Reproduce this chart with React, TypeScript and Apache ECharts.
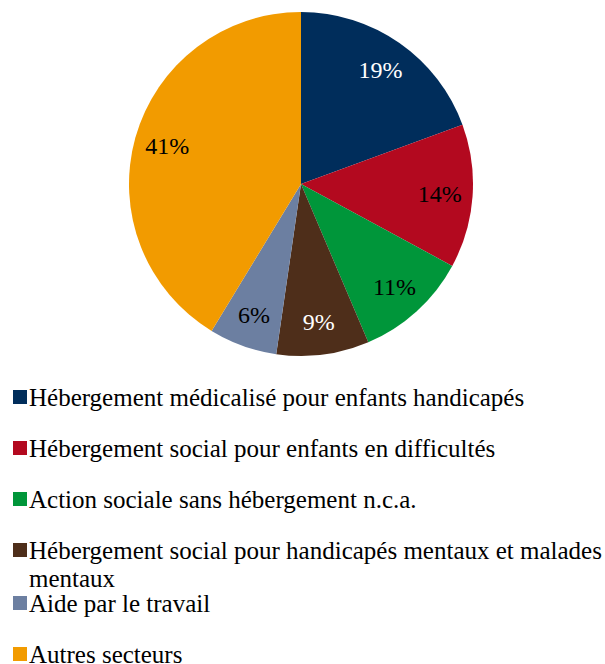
import React, { useEffect, useRef } from "react";
import * as echarts from "echarts";

const categories = [
  "Hébergement médicalisé pour enfants handicapés",
  "Hébergement social pour enfants en difficultés",
  "Action sociale sans hébergement n.c.a.",
  "Hébergement social pour handicapés mentaux et malades mentaux",
  "Aide par le travail",
  "Autres secteurs",
];
const values = [19.4, 13.5, 10.7, 8.7, 6.4, 41.3];
const colors = ["#002D5B", "#B3091F", "#00963A", "#4E2E1A", "#6C7FA1", "#F29B00"];
const labelColors = ["#FFFFFF", "#000000", "#000000", "#FFFFFF", "#000000", "#000000"];
const legendTops = [397, 448, 499, 550, 603, 654];

const FONT = "Liberation Serif";

export default function App() {
  const ref = useRef<HTMLDivElement>(null);
  useEffect(() => {
    document.body.style.margin = "0";
    const chart = echarts.init(ref.current!, null, { renderer: "svg" });
    const data = categories.map((name, i) => ({
      name,
      value: values[i],
      itemStyle: { color: colors[i] },
    }));
    const labelData = categories.map((name, i) => ({
      name,
      value: values[i],
      itemStyle: { color: "rgba(0,0,0,0)" },
      label: { color: labelColors[i] },
    }));
    const fontSize = 25;
    const legends = categories.map((name, i) => ({
      data: [name],
      left: 13,
      top: legendTops[i] - 17,
      orient: "vertical",
      itemWidth: 14,
      itemHeight: 14,
      itemGap: 0,
      icon: "rect",
      padding: 0,
      selectedMode: false,
      textStyle: {
        fontFamily: FONT,
        fontSize,
        color: "#000",
        padding: [0, 0, 9, -3],
        lineHeight: 25,
      },
      formatter: (n: string) =>
        n === categories[3] ? "Hébergement social pour handicapés mentaux et malades" : n,
    }));
    chart.setOption({
      animation: false,
      legend: legends,
      graphic: [
        {
          type: "text",
          x: 29,
          y: 578,
          style: {
            text: "mentaux",
            fontFamily: FONT,
            fontSize,
            fill: "#000",
            verticalAlign: "middle",
          },
        },
      ],
      series: [
        {
          type: "pie",
          center: [301, 184],
          radius: [0, 172],
          startAngle: 90,
          clockwise: true,
          data,
          label: { show: false },
          labelLine: { show: false },
          silent: true,
        },
        {
          type: "pie",
          center: [301, 184],
          radius: [100, 172],
          startAngle: 90,
          clockwise: true,
          data: labelData,
          silent: true,
          legendHoverLink: false,
          label: {
            show: true,
            position: "inside",
            fontFamily: FONT,
            fontSize: 24,
            formatter: (p: any) => Math.round(p.percent) + "%",
          },
          labelLine: { show: false },
        },
      ],
    });
    return () => chart.dispose();
  }, []);
  return <div ref={ref} style={{ width: 605, height: 664 }} />;
}
